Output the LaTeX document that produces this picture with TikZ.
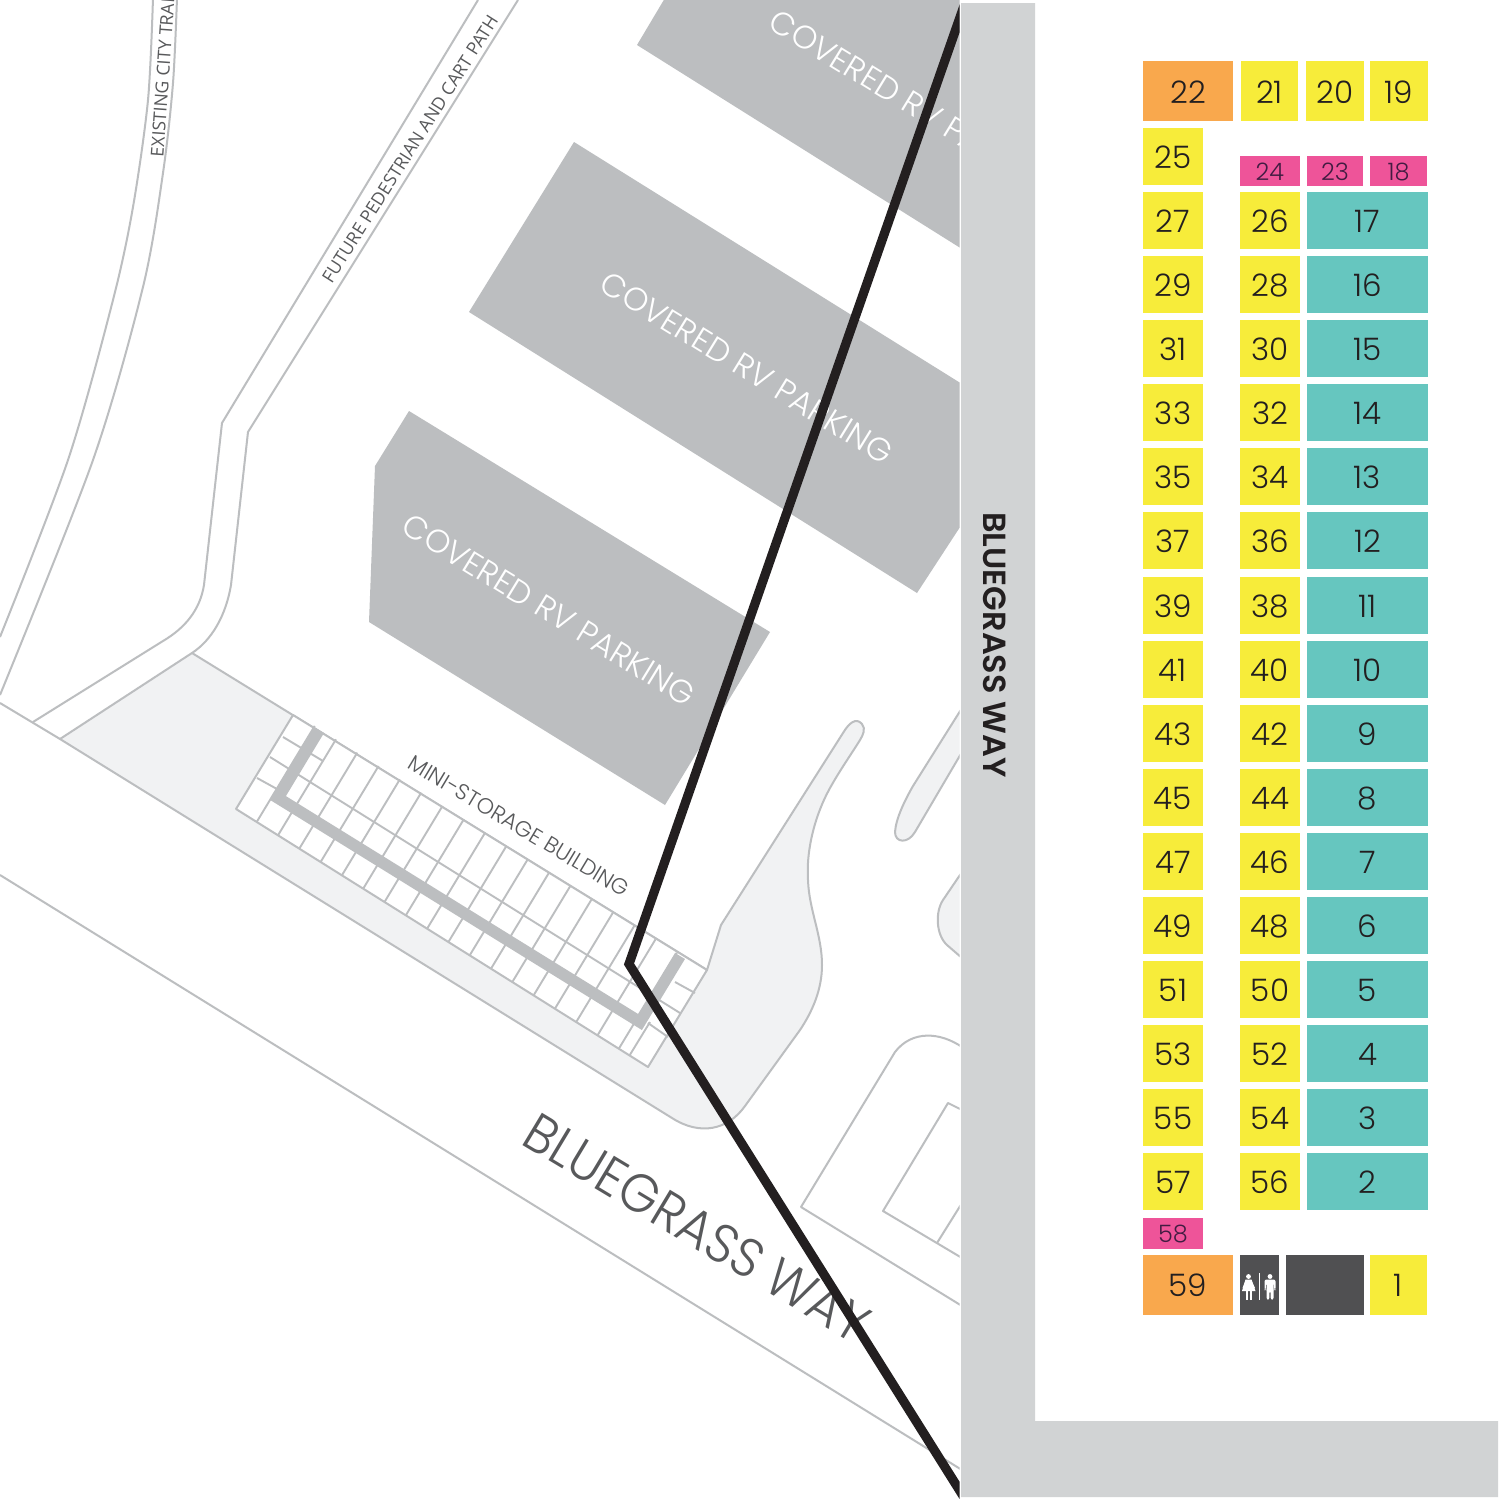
\documentclass[tikz,border=0pt]{standalone}
\usepackage{fontspec}
\setmainfont{Liberation Sans}
\newfontfamily\numfont{Poppins Light}
\newfontfamily\mapfont{Poppins Light}
\newfontfamily\bigfont[FakeStretch=0.93]{Poppins Light}
\newfontfamily\pathfont{Open Sans}
\newfontfamily\roadfont{Poppins SemiBold}
\definecolor{linegray}{HTML}{BCBEC0}
\definecolor{roadgray}{HTML}{D1D3D4}
\definecolor{paved}{HTML}{F1F2F3}
\definecolor{labelgray}{HTML}{58595B}
\definecolor{inkblack}{HTML}{231F20}
\definecolor{slotyellow}{HTML}{F7EC3A}
\definecolor{slotorange}{HTML}{F9A84D}
\definecolor{slotpink}{HTML}{EE5499}
\definecolor{slotteal}{HTML}{66C6BF}
\definecolor{darkroom}{HTML}{505052}
\tikzset{
  mapline/.style={draw=linegray,line width=1pt,line join=round},
  gridline/.style={draw=linegray,line width=0.95pt},
  building/.style={fill=linegray},
  bldlabel/.style={text=white,font=\mapfont\fontsize{16.2}{16.2}\selectfont,inner sep=0pt},
  slotlabel/.style={font=\numfont\fontsize{15.5}{15.5}\selectfont,text=inkblack,inner sep=0pt,text height=12pt,text depth=0pt},
  smalllabel/.style={font=\numfont\fontsize{12}{12}\selectfont,text={rgb,255:red,66;green,28;blue,66},inner sep=0pt,text height=9pt,text depth=0pt},
  pathlabel/.style={font=\pathfont\fontsize{8.9}{8.9}\selectfont,text=labelgray,inner sep=0pt},
}
\newcommand{\slotbox}[7][slotlabel]{%
  \fill[#2] (#3,#4) rectangle (#5,#6) node[midway,#1] (s#7) {#7};}
\begin{document}
\begin{tikzpicture}[x=0.5pt,y=-0.5pt]
\useasboundingbox (0,0) rectangle (1500,1499);
\fill[white] (0,0) rectangle (1500,1499);
\begin{scope}
\clip (0,0) rectangle (959.5,1499);
% paved area
\path[fill=paved,mapline] (60,739) -- (192,653) -- (707,970) -- (721,925) -- (843,733)
  .. controls (849,723) and (856,717) .. (862,724) .. controls (866,729) and (863,735) .. (860,740)
  .. controls (852,753) and (840,770) .. (830,788)
  .. controls (815,815) and (806,850) .. (808,880)
  .. controls (809,910) and (822,935) .. (822,965)
  .. controls (822,990) and (812,1012) .. (800,1030)
  -- (745,1106) .. controls (728,1130) and (700,1136) .. (672,1118) -- cycle;
\path[fill=paved,mapline] (962,708) -- (913,786) .. controls (905,800) and (896,818) .. (895,832)
  .. controls (895,843) and (908,844) .. (915,832) -- (962,752);
\path[fill=paved,mapline] (962,872) -- (943,900) .. controls (935,912) and (936,935) .. (947,945) -- (962,958);
% storage building
\path[fill=white] (293,715) -- (707,970) -- (648,1067) -- (236,809) -- cycle;
\foreach \k in {0,...,17}{
  \pgfmathsetmacro\bx{256.7+21.3*\k}
  \pgfmathsetmacro\by{809+(\bx-236)*0.6262}
  \draw[gridline] (\bx,\by) -- ({\bx+58},{\by-96});
}
\draw[gridline] (629.5,1055.5) -- (650,1022);
\draw[gridline] (283,737) -- (323,761);
\draw[gridline] (270,757) -- (680,1013);
\draw[gridline] (257,778) -- (277,789);
\draw[gridline] (675,982) -- (695,993);
\draw[gridline] (648,1023) -- (668,1037);
\draw[mapline] (293,715) -- (707,970) -- (648,1067) -- (236,809) -- cycle;
\draw[line width=5.8pt,draw=linegray,line join=miter] (319,730) -- (278,798) -- (640,1022) -- (680,956);
% outer roads and paths
\draw[mapline] (0,703) -- (60,739);
\draw[mapline] (0,875) -- (962,1470);
\draw[mapline] plot[smooth] coordinates {(153,-2) (148,100) (133,207) (113,300) (68,460) (0,637)};
\draw[mapline] plot[smooth] coordinates {(177,-2) (173,83) (163,173) (143,287) (93,460) (0,695)};
\draw[mapline] (478,0) -- (222,423) -- (204,585) .. controls (200,610) and (185,628) .. (163,641) -- (33,722);
\draw[mapline] (518,0) -- (248,432) -- (231,585) .. controls (226,615) and (212,640) .. (192,653);
% lower right lots
\draw[mapline] (962,1047) .. controls (940,1032) and (912,1030) .. (895,1052) -- (801,1207) -- (962,1306);
\draw[mapline] (962,1110) -- (948,1103) -- (883,1211) -- (962,1258);
\draw[mapline] (937,1243) -- (962,1203);
% covered parking
\fill[building] (665,-2) -- (637,45) -- (962,249) -- (962,-2) -- cycle;
\fill[building] (574,142) -- (469,312) -- (917,593) -- (962,524) -- (962,384) -- cycle;
\fill[building] (409,411) -- (770,632) -- (665,805) -- (369,622) -- (375,466) -- cycle;
\node[bldlabel,rotate=-31.5] (cov1) at (916,106) {COVERED RV PARKING};
\node[bldlabel,rotate=-31.5] (cov2) at (747,368) {COVERED RV PARKING};
\node[bldlabel,rotate=-31.5] (cov3) at (549,610) {COVERED RV PARKING};
\node[font=\mapfont\fontsize{11}{11}\selectfont,text=labelgray,inner sep=0pt,rotate=-31] (mini) at (519,826) {MINI-STORAGE BUILDING};
\node[font=\bigfont\fontsize{27}{27}\selectfont,text=labelgray,inner sep=0pt,rotate=-31] (bgw) at (697,1228) {BLUEGRASS WAY};
\node[pathlabel,rotate=86,anchor=west] (trail) at (157,157) {EXISTING CITY TRAIL};
\node[pathlabel,rotate=57.6] (future) at (410,149) {FUTURE PEDESTRIAN AND CART PATH};
% boundary
\coordinate (bTop) at (965,3);
\coordinate (bMid) at (629,964);
\coordinate (bEnd) at (965,1499);
\draw[inkblack,line width=4.6pt,line join=miter] (bTop) -- (bMid) -- (bEnd);
\end{scope}
% road
\fill[roadgray] (961,3) -- (1035,3) -- (1035,1421) -- (1498,1421) -- (1498,1497) -- (961,1497) -- cycle;
\node[font=\roadfont\fontsize{16}{16}\selectfont,text=inkblack,inner sep=0pt,rotate=-90] (road) at (995,645) {BLUEGRASS WAY};
% slots
\slotbox{slotorange}{1143}{61}{1233}{121}{22}
\slotbox{slotyellow}{1241}{61}{1298}{121}{21}
\slotbox{slotyellow}{1306}{61}{1363.5}{121}{20}
\slotbox{slotyellow}{1370}{61}{1428}{121}{19}
\slotbox[smalllabel]{slotpink}{1240}{156}{1299.5}{186}{24}
\slotbox[smalllabel]{slotpink}{1307}{156}{1363}{186}{23}
\slotbox[smalllabel]{slotpink}{1370}{156}{1427}{186}{18}
\foreach \i in {0,...,16}{
  \pgfmathsetmacro\ya{156.5+64.08*\i-28.5}
  \pgfmathsetmacro\yb{156.5+64.08*\i+28.5}
  \pgfmathtruncatemacro\la{25+2*\i}
  \slotbox{slotyellow}{1143}{\ya}{1203}{\yb}{\la}
  \ifnum\i>0
    \pgfmathtruncatemacro\lb{24+2*\i}
    \pgfmathtruncatemacro\lc{18-\i}
    \slotbox{slotyellow}{1240}{\ya}{1300}{\yb}{\lb}
    \slotbox{slotteal}{1307}{\ya}{1428}{\yb}{\lc}
  \fi
}
\slotbox[smalllabel]{slotpink}{1143}{1218}{1203}{1249}{58}
\slotbox{slotorange}{1143}{1254.5}{1233}{1314.5}{59}
\slotbox{slotyellow}{1370}{1254.5}{1427}{1314.5}{1}
\fill[darkroom] (1239.5,1254.5) rectangle (1279,1314.5);
\fill[darkroom] (1285.5,1254.5) rectangle (1364,1314.5);
% restroom icon
\begin{scope}[white]
\fill (1248.5,1276.5) circle (2.4);
\fill (1245.5,1279.5) -- (1251.5,1279.5) -- (1255.5,1291) -- (1242,1291) -- cycle;
\fill (1246,1279.5) -- (1242.5,1288) -- (1243.8,1288.5) -- (1247,1281) -- cycle;
\fill (1251,1279.5) -- (1255,1288) -- (1253.7,1288.5) -- (1250,1281) -- cycle;
\fill (1245.5,1291) rectangle (1247.6,1299.5);
\fill (1249.6,1291) rectangle (1251.7,1299.5);
\fill (1258.8,1273) rectangle (1260,1299.5);
\fill (1270,1276.5) circle (2.4);
\fill[rounded corners=1pt] (1264.5,1290) -- (1264.5,1279.5) -- (1275.5,1279.5) -- (1275.5,1290) -- (1274.2,1290) -- (1274.2,1283) -- (1273.6,1283) -- (1273.6,1299.5) -- (1270.6,1299.5) -- (1270.6,1291) -- (1269.4,1291) -- (1269.4,1299.5) -- (1266.5,1299.5) -- (1266.5,1283) -- (1265.8,1283) -- (1265.8,1290) -- cycle;
\end{scope}
\end{tikzpicture}
\end{document}
